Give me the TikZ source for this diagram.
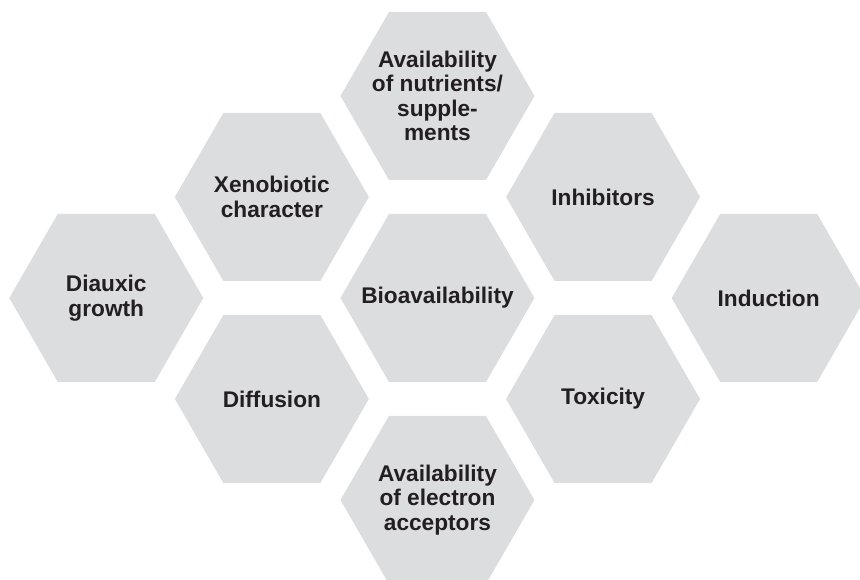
\documentclass[tikz,border=0pt]{standalone}
\usepackage{fontspec}
\setmainfont{Liberation Sans}
\usepackage{tikz}
\usetikzlibrary{positioning, shapes.geometric}

\definecolor{hexgray}{RGB}{220,221,223}
\definecolor{hextext}{RGB}{35,31,32}

\tikzset{
    hexcell/.style={regular polygon, regular polygon sides=6, minimum size=145.5pt, inner sep=0pt, fill=hexgray},
    hexlabel/.style={text=hextext, align=center, inner sep=0pt, font=\fontsize{17}{18.4}\selectfont\bfseries}
}

\begin{document}
\begin{tikzpicture}[node distance=124.2pt, on grid]
        \useasboundingbox (-328.1pt,-211.5pt) rectangle (316.9pt,223.5pt);
        % Centre column
        \node[hexcell, label={[hexlabel]center:Bioavailability}] (bio) at (0,0) {};
        \node[hexcell, above=151.5pt of bio, label={[hexlabel]center:{Availability\\of nutrients/\\supple-\\ments}}] (nutrients) {};
        \node[hexcell, below=151.5pt of bio, label={[hexlabel]center:{Availability\\of electron\\acceptors}}] (acceptors) {};
        % Inner ring
        \node[hexcell, above left=75.75pt and 124.2pt of bio, label={[hexlabel]center:{Xenobiotic\\character}}] (xeno) {};
        \node[hexcell, below left=75.75pt and 124.2pt of bio, label={[hexlabel]center:Diffusion}] (diffusion) {};
        \node[hexcell, above right=75.75pt and 124.2pt of bio, label={[hexlabel]center:Inhibitors}] (inhibitors) {};
        \node[hexcell, below right=75.75pt and 124.2pt of bio, label={[hexlabel]center:Toxicity}] (toxicity) {};
        % Outer columns
        \node[hexcell, left=248.4pt of bio, label={[hexlabel]center:{Diauxic\\growth}}] (diauxic) {};
        \node[hexcell, right=248.4pt of bio, label={[hexlabel]center:Induction}] (induction) {};
    \end{tikzpicture}
\end{document}
